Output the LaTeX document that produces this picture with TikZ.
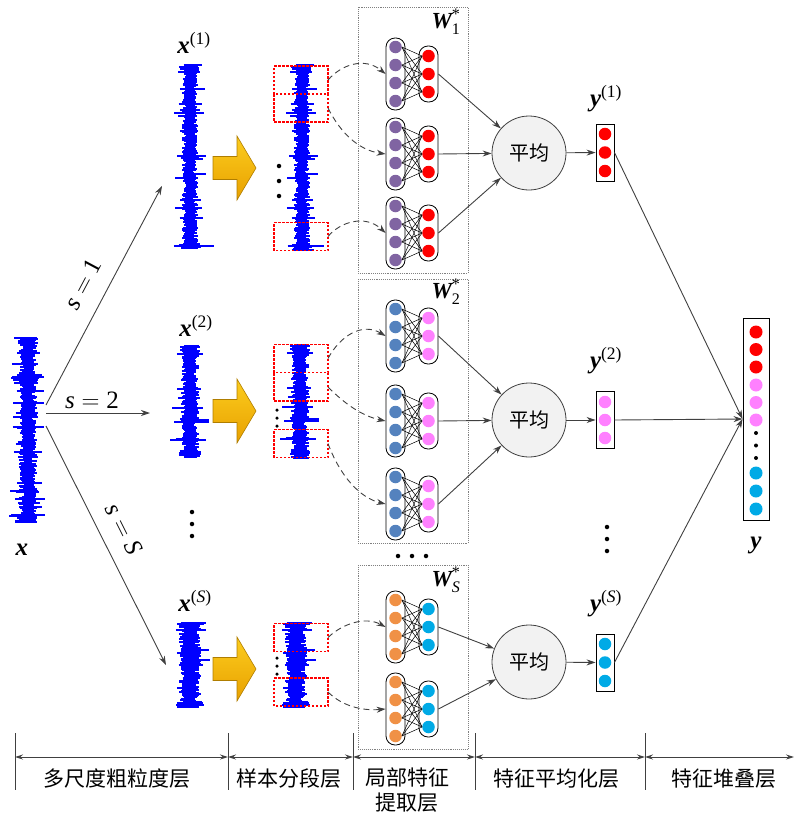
\documentclass[tikz,border=0pt]{standalone}
\usepackage{amsmath}
\usepackage{fontspec}
\setmainfont{Liberation Serif}
\newfontfamily\cjk{Noto Sans CJK SC}
\usetikzlibrary{arrows.meta,calc}
\definecolor{sigblue}{RGB}{0,0,255}
\definecolor{purp}{RGB}{128,100,162}
\definecolor{redc}{RGB}{255,0,0}
\definecolor{steel}{RGB}{84,130,190}
\definecolor{pinkc}{RGB}{255,128,255}
\definecolor{orangec}{RGB}{240,145,70}
\definecolor{cyanc}{RGB}{0,170,230}
\definecolor{arrgray}{RGB}{64,64,64}
\definecolor{avgfill}{RGB}{242,242,242}
\definecolor{yelA}{RGB}{252,205,30}
\definecolor{yelB}{RGB}{232,160,0}
\definecolor{yelE}{RGB}{175,125,0}

\newcommand\bx[1]{\text{\bfseries\itshape #1}}

\newcommand\drawsig[6]{% cx ytop ybot hw spikefactor seed
  \pgfmathsetseed{#6}
  \foreach \yy in {#2,...,#3}{
    \pgfmathsetmacro\sgE{1+0.6*max(0,1-(\yy-#2)/8)+0.6*max(0,1-(#3-\yy)/8)}
    \pgfmathsetmacro\sgK{rnd<0.09 ? #5 : 1}
    \pgfmathsetmacro\sgA{#4*\sgE*\sgK*(0.4+0.6*rnd)}
    \pgfmathsetmacro\sgB{#4*\sgE*\sgK*(0.4+0.6*rnd)}
    \draw[sigline] ({#1-\sgA},\yy) -- ({#1+\sgB},\yy);
  }}

\newcommand\nnunit[4]{%
  \node[capsL] (#1L) at (395.5,#2) {};
  \node[capsR] (#1R) at (428.5,#2) {};
  \foreach \k/\dy in {1/-27,2/-9,3/9,4/27}
    \node[neuron,fill=#3] (#1L\k) at (395.5,{#2+\dy}) {};
  \foreach \k/\dy in {1/-18,2/0,3/18}
    \node[neuron,fill=#4] (#1R\k) at (428.5,{#2+\dy}) {};
  \foreach \i in {1,...,4}{\foreach \j in {1,...,3}{\draw[conn] (#1L\i.east) -- (#1R\j.west);}}
}

\newcommand\yarrow[1]{%
  \draw[yarr] (213,{#1-11.5}) -- (237,{#1-11.5}) -- (237,{#1-32}) -- (256,#1)
     -- (237,{#1+32}) -- (237,{#1+11.5}) -- (213,{#1+11.5}) -- cycle;}

% segment box: name, center y, top-edge drawn (1) or not (0)
\newcommand\segbox[3]{%
  \node[inner sep=0pt, outer sep=0pt, minimum width=54pt, minimum height=28pt] (#1) at (301,#2) {};
  \ifnum#3=1
    \draw[segline] (#1.south west) rectangle (#1.north east);
  \else
    \draw[segline] (#1.north west) -- (#1.south west) -- (#1.south east) -- (#1.north east);
  \fi}

\begin{document}
\begin{tikzpicture}[x=1pt,y=-1pt,
  sigline/.style={sigblue, line width=1.2pt},
  segline/.style={draw=redc, line width=1.4pt, dash pattern=on 2.5pt off 1.5pt},
  blockbox/.style={draw=gray, densely dotted, line width=0.9pt},
  capsL/.style={draw, line width=0.8pt, rounded corners=9pt, minimum width=19pt, minimum height=72pt, inner sep=0pt},
  capsR/.style={draw, line width=0.8pt, rounded corners=9pt, minimum width=19pt, minimum height=56pt, inner sep=0pt},
  neuron/.style={circle, inner sep=0pt, minimum size=12.5pt},
  conn/.style={black, line width=0.5pt},
  arr/.style={arrgray, line width=0.9pt, -{Stealth[length=9pt,width=6pt]}},
  dasharr/.style={arrgray, line width=0.9pt, dash pattern=on 6pt off 4pt, -{Stealth[length=9pt,width=6pt]}},
  avg/.style={circle, draw=arrgray, line width=0.8pt, fill=avgfill, minimum size=74pt, inner sep=0pt, font=\cjk\fontsize{20}{20}\selectfont},
  ybox/.style={draw, line width=0.9pt, minimum width=18pt, minimum height=57pt, inner sep=0pt},
  dimarr/.style={arrgray, line width=0.9pt, {Stealth[length=8pt,width=5pt]}-{Stealth[length=8pt,width=5pt]}},
  tick/.style={arrgray, line width=0.9pt},
  lbl/.style={font=\fontsize{25}{25}\selectfont, inner sep=0pt},
  slbl/.style={font=\fontsize{25}{25}\selectfont, inner sep=0pt},
  wlbl/.style={font=\fontsize{23}{23}\selectfont, inner sep=0pt},
  cjklbl/.style={font=\cjk\fontsize{21}{26}\selectfont, inner sep=0pt, align=center},
  yarr/.style={draw=yelE, line width=0.6pt, top color=yelA, bottom color=yelB},
  dot/.style={circle, fill=black, inner sep=0pt, minimum size=4.5pt}
]
\useasboundingbox (0,0) rectangle (795,814);

% ---- input signal x
\drawsig{28}{338}{522}{9}{2.0}{11}
\node[lbl] (lx) at (22,550) {$\bx{x}$};

% ---- coarse-grained signals
\drawsig{190}{65}{248}{8}{2.1}{21}
\drawsig{190}{346}{457}{9}{2.2}{31}
\drawsig{190}{623}{707}{11}{1.9}{41}
\node[lbl] (lx1) at (194,43) {$\bx{x}^{\text{(1)}}$};
\node[lbl] (lx2) at (196,326) {$\bx{x}^{\text{(2)}}$};
\node[lbl] (lxS) at (195,601) {$\bx{x}^{\text{(\itshape S\/\upshape)}}$};
\node[dot] (dx1) at (192,512) {};
\node[dot] (dx2) at (192,524) {};
\node[dot] (dx3) at (192,536) {};

% ---- branches
\coordinate (o1) at (46,405);
\coordinate (o2) at (46,413);
\coordinate (o3) at (46,426);
\coordinate (e1) at (162,186);
\coordinate (e2) at (150,413);
\coordinate (e3) at (166,665);
\draw[arr] (o1) -- (e1);
\draw[arr] (o2) -- (e2);
\draw[arr] (o3) -- (e3);
\node[slbl, rotate=62] (s1) at (83,284) {$\text{\itshape s}=\text{1}$};
\node[slbl] (s2) at (92,400) {$\text{\itshape s}=\text{2}$};
\node[slbl, rotate=-63.5] (sS) at (124,529) {$\text{\itshape s}=\text{\itshape S}$};

% ---- yellow arrows
\yarrow{168}
\yarrow{411}
\yarrow{669}

% ---- segmented signals
\drawsig{302}{65}{250}{8}{2.1}{21}
\drawsig{300}{345}{458}{9}{2.2}{31}
\drawsig{296}{623}{707}{11}{1.9}{41}
\segbox{g11}{80}{1}
\segbox{g12}{108}{0}
\segbox{g13}{236.5}{1}
\segbox{g21}{358.5}{1}
\segbox{g22}{387}{0}
\segbox{g23}{443.5}{1}
\segbox{g31}{637.5}{1}
\segbox{g32}{692}{1}
\foreach \yy [count=\n] in {166,181,196}{\node[dot] (da\n) at (279,\yy) {};}
\foreach \yy [count=\n] in {410,418,426}{\node[dot, minimum size=3.5pt] (db\n) at (277,\yy) {};}
\foreach \yy [count=\n] in {658,666,674}{\node[dot, minimum size=3.5pt] (dc\n) at (277,\yy) {};}

% ---- blocks
\draw[blockbox] (358,7) rectangle (468,273);
\draw[blockbox] (358,279) rectangle (468,543);
\draw[blockbox] (358,565) rectangle (468,749);
\node[wlbl] (w1) at (446,22) {$\bx{W}_{\text{1}}^{\text{*}}$};
\node[wlbl] (w2) at (446,292) {$\bx{W}_{\text{2}}^{\text{*}}$};
\node[wlbl] (wS) at (446,580) {$\bx{W}_{\text{\itshape S}}^{\text{*}}$};
\node[dot] (bd1) at (398,556) {};
\node[dot] (bd2) at (412,556) {};
\node[dot] (bd3) at (426,556) {};

\nnunit{ua}{74}{purp}{redc}
\nnunit{ub}{154}{purp}{redc}
\nnunit{uc}{233}{purp}{redc}
\nnunit{ud}{336}{steel}{pinkc}
\nnunit{ue}{421}{steel}{pinkc}
\nnunit{uf}{504}{steel}{pinkc}
\nnunit{ug}{627}{orangec}{cyanc}
\nnunit{uh}{709}{orangec}{cyanc}

% ---- dashed segment arrows
\draw[dasharr] (g11.east) .. controls (342,64) and (365,57) .. (uaL.west);
\draw[dasharr] (g12.east) .. controls (340,132) and (358,150) .. (ubL.west);
\draw[dasharr] (g13.east) .. controls (340,222) and (365,214) .. (ucL.west);
\draw[dasharr] (g21.east) .. controls (340,336) and (362,322) .. (udL.west);
\draw[dasharr] (g22.east) .. controls (345,404) and (362,416) .. (ueL.west);
\draw[dasharr] (g23.east) .. controls (340,476) and (360,498) .. (ufL.west);
\draw[dasharr] (g31.east) .. controls (342,624) and (365,616) .. (ugL.west);
\draw[dasharr] (g32.east) .. controls (342,706) and (362,711) .. (uhL.west);

% ---- averaging
\node[avg] (avg1) at (529,153) {平均};
\node[avg] (avg2) at (529,420) {平均};
\node[avg] (avg3) at (529,662) {平均};
\draw[arr] (uaR.east) -- (avg1);
\draw[arr] (ubR.east) -- (avg1);
\draw[arr] (ucR.east) -- (avg1);
\draw[arr] (udR.east) -- (avg2);
\draw[arr] (ueR.east) -- (avg2);
\draw[arr] (ufR.east) -- (avg2);
\draw[arr] (ugR.east) -- (avg3);
\draw[arr] (uhR.east) -- (avg3);

% ---- y outputs
\node[ybox] (y1) at (605,152.5) {};
\node[ybox] (y2) at (605,420) {};
\node[ybox] (yS) at (605,662.5) {};
\foreach \yy [count=\n] in {134,152.5,171}{\node[neuron,fill=redc] (y1c\n) at (605,\yy) {};}
\foreach \yy [count=\n] in {402,420,438}{\node[neuron,fill=pinkc] (y2c\n) at (605,\yy) {};}
\foreach \yy [count=\n] in {644,662.5,681}{\node[neuron,fill=cyanc] (ySc\n) at (605,\yy) {};}
\node[lbl] (ly1) at (606,99) {$\bx{y}^{\text{(1)}}$};
\node[lbl] (ly2) at (606,361) {$\bx{y}^{\text{(2)}}$};
\node[lbl] (lyS) at (606,604) {$\bx{y}^{\text{(\itshape S\/\upshape)}}$};
\node[dot] (dy1) at (607,527) {};
\node[dot] (dy2) at (607,539) {};
\node[dot] (dy3) at (607,551) {};
\draw[arr] (avg1) -- (y1);
\draw[arr] (avg2) -- (y2);
\draw[arr] (avg3) -- (yS);

% ---- stacked y
\node[draw, line width=0.9pt, minimum width=26pt, minimum height=202pt, inner sep=0pt] (Y) at (756,419) {};
\foreach \yy [count=\n] in {332,349.5,367}{\node[neuron,fill=redc,minimum size=13pt] (Yr\n) at (756,\yy) {};}
\foreach \yy [count=\n] in {385,402.5,420}{\node[neuron,fill=pinkc,minimum size=13pt] (Yp\n) at (756,\yy) {};}
\foreach \yy [count=\n] in {433,445.5,458}{\node[dot,minimum size=4pt] (Yd\n) at (756,\yy) {};}
\foreach \yy [count=\n] in {473,491,509}{\node[neuron,fill=cyanc,minimum size=13pt] (Yc\n) at (756,\yy) {};}
\node[lbl] (lY) at (756,545) {$\bx{y}$};
\draw[arr] (y1.east) -- (Y.west);
\draw[arr] (y2.east) -- (Y.west);
\draw[arr] (yS.east) -- (Y.west);

% ---- bottom dimension lines
\foreach \xx [count=\n] in {15,228,353,475,645}{
  \coordinate (ta\n) at (\xx,733);
  \coordinate (tb\n) at (\xx,790);
  \coordinate (tm\n) at (\xx,757);
  \draw[tick] (ta\n) -- (tb\n);
}
\coordinate (tm6) at (794,757);
\draw[dimarr] (tm1) -- (tm2);
\draw[dimarr] (tm2) -- (tm3);
\draw[dimarr] (tm3) -- (tm4);
\draw[dimarr] (tm4) -- (tm5);
\draw[dimarr] (tm5) -- (tm6);
\node[cjklbl] (c1) at (117,779) {多尺度粗粒度层};
\node[cjklbl] (c2) at (289,779) {样本分段层};
\node[cjklbl] (c3) at (407,777) {局部特征};
\node[cjklbl] (c3b) at (407,803) {提取层};
\node[cjklbl] (c4) at (556,779) {特征平均化层};
\node[cjklbl] (c5) at (724,779) {特征堆叠层};
\end{tikzpicture}
\end{document}
